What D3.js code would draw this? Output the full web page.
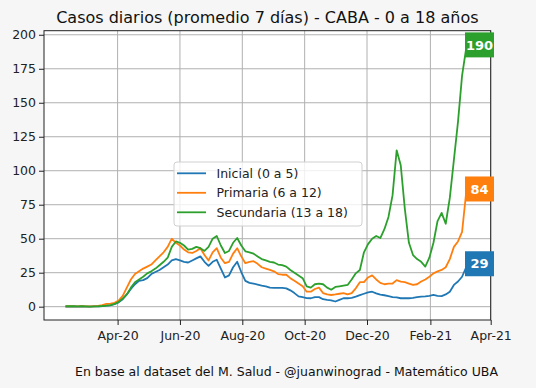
<!DOCTYPE html>
<html><head><meta charset="utf-8">
<script src="https://cdn.jsdelivr.net/npm/d3@7"></script>
<style>
body{margin:0;background:#f6f6f6;}
svg{display:block;font-family:"DejaVu Sans",sans-serif;}
</style></head>
<body>
<svg id="c" width="536" height="388"></svg>
<script>
// ---- data (7-day average daily cases, sampled every 4 days) ----
const startDate = "2020-02-10";
const stepDays = 4;
const seriesNames = ["Inicial (0 a 5)", "Primaria (6 a 12)", "Secundaria (13 a 18)"];
const seriesColors = ["#1f77b4", "#ff7f0e", "#2ca02c"];
const inicial = [0.1,0.1,0.2,0.1,0.2,0.1,0.1,0.2,0.3,0.5,0.8,1.0,1.8,3.2,5.5,9,13,16.5,19,19.5,21,24,25.5,27,29,31,34,35,34,33,32.5,34,35.5,37,33,30,33,34.5,28,21.5,23,29,33,25.5,19,17.5,17,16.3,15.5,15,14,13.8,13.8,13.8,13.5,12,10,7.6,7,6.3,6.2,7,7,5.5,5,4.7,3.8,5,6.2,6.2,6.5,7.4,8.5,9.5,10.5,11,9.8,8.8,8.4,7.8,7,6.8,6.2,6.2,6.2,6.5,7,7.4,7.6,8,8.6,8,7.8,9,11,16,18.5,22,29];
const primaria = [0.2,0.3,0.2,0.2,0.3,0.2,0.2,0.3,0.6,1.2,2.0,2.2,2.8,4.5,8,14,20,24,26,28,29.5,31,34,37,40,44,50,47,45,42,40,39.5,41,43,38,34,40,43,36,32,33,39,43,37,32,33,33.5,31.5,29,28,27,26,24,23.5,23.5,21,19,17,15,11,11,13,14,10,9,8.6,9,9.5,10,9,10,13.5,18,18,21.5,23,20,17.5,16.5,17,17,19.5,18.5,18,17,16,16.5,18.5,20,22,24.5,26,27,29,35,44,48,55,84];
const secundaria = [0.3,0.4,0.3,0.2,0.3,0.2,0.1,0.2,0.3,0.5,0.8,1.2,2.0,3.5,6,9,14,18,20,22,24.5,26,28,30.5,33,36,44,48,47,45,42,42.5,44,43,41,44,50,52,45,39.5,41,47,50.5,45,40.7,40,39,37,35,34,33,32.5,31,30.5,29.5,27,25,23,21,15,14,16.5,17,16.5,14,12.5,14.5,15,15.5,16,20,24.5,27,40,46,50,52,50.5,57,66,82,115,104,72,47,38,35,33,29.5,36,47,63,69,61,80,108,136,170,190];
const yTicks = [0,25,50,75,100,125,150,175,200];
const xTicks = ["2020-04-01","2020-06-01","2020-08-01","2020-10-01","2020-12-01","2021-02-01","2021-04-01"];
const titleText = "Casos diarios (promedio 7 días) - CABA - 0 a 18 años";
const footerText = "En base al dataset del M. Salud - @juanwinograd - Matemático UBA";

// ---- layout ----
const svg = d3.select("#c");
const L = 44, R = 490.7, T = 30.7, B = 320;
const parse = d3.utcParse("%Y-%m-%d");
const t0 = parse(startDate);
const dates = inicial.map((_, i) => d3.utcDay.offset(t0, i * stepDays));
const x = d3.scaleUtc().domain([parse("2020-01-20"), parse("2021-04-01")]).range([L, R]);
const y = d3.scaleLinear().domain([-9.8, 203]).range([B, T]);

svg.append("rect").attr("width", 536).attr("height", 388).attr("fill", "#f6f6f6");
svg.append("rect").attr("x", L).attr("y", T).attr("width", R - L).attr("height", B - T).attr("fill", "#fff");

// grid
const g = svg.append("g");
g.selectAll(".gx").data(xTicks.map(parse)).join("line")
  .attr("x1", d => x(d)).attr("x2", d => x(d)).attr("y1", T).attr("y2", B)
  .attr("stroke", "#b0b0b0").attr("stroke-width", 1);
g.selectAll(".gy").data(yTicks).join("line")
  .attr("x1", L).attr("x2", R).attr("y1", d => y(d)).attr("y2", d => y(d))
  .attr("stroke", "#b0b0b0").attr("stroke-width", 1);

// lines
const all = [inicial, primaria, secundaria];
const line = d3.line().x((d, i) => x(dates[i])).y(d => y(d));
all.forEach((s, k) => {
  svg.append("path").datum(s).attr("d", line).attr("fill", "none")
    .attr("stroke", seriesColors[k]).attr("stroke-width", 1.8).attr("stroke-linejoin", "round");
});

// frame
svg.append("rect").attr("x", L).attr("y", T).attr("width", R - L).attr("height", B - T)
  .attr("fill", "none").attr("stroke", "#222").attr("stroke-width", 1);

// axes
const xa = svg.append("g").attr("transform", `translate(0,${B})`)
  .call(d3.axisBottom(x).tickValues(xTicks.map(parse)).tickFormat(d3.utcFormat("%b-%y")).tickSize(5).tickPadding(6));
const ya = svg.append("g").attr("transform", `translate(${L},0)`)
  .call(d3.axisLeft(y).tickValues(yTicks).tickSize(5).tickPadding(3));
[xa, ya].forEach(a => {
  a.select(".domain").remove();
  a.selectAll("text").attr("font-family", "DejaVu Sans").attr("font-size", 12.5).attr("fill", "#222");
  a.selectAll("line").attr("stroke", "#222");
});

// end labels
all.forEach((s, k) => {
  const v = s[s.length - 1];
  const cy = y(v) - 3.5;
  svg.append("rect").attr("x", 465).attr("y", cy - 12.5).attr("width", 29).attr("height", 25)
    .attr("fill", seriesColors[k]);
  svg.append("text").attr("x", 479.5).attr("y", cy).attr("dy", "0.36em").attr("text-anchor", "middle")
    .attr("fill", "#fff").attr("font-weight", "bold").attr("font-size", 13).text(v);
});

// legend
const lg = svg.append("g");
lg.append("rect").attr("x", 174).attr("y", 162).attr("width", 188).attr("height", 64).attr("rx", 3)
  .attr("fill", "#fff").attr("fill-opacity", 0.8).attr("stroke", "#d0d0d0");
seriesNames.forEach((n, k) => {
  const cy = 173.3 + k * 19.5;
  lg.append("line").attr("x1", 177).attr("x2", 206).attr("y1", cy).attr("y2", cy)
    .attr("stroke", seriesColors[k]).attr("stroke-width", 1.8);
  lg.append("text").attr("x", 216.5).attr("y", cy).attr("dy", "0.36em").attr("font-size", 12.5)
    .attr("fill", "#222").text(n);
});

// title & footer
svg.append("text").attr("x", (L + R) / 2).attr("y", 22.5).attr("text-anchor", "middle")
  .attr("font-size", 16).attr("fill", "#111").text(titleText);
svg.append("text").attr("x", 75).attr("y", 376).attr("font-size", 12.5).attr("fill", "#111").text(footerText);
</script>
</body></html>
